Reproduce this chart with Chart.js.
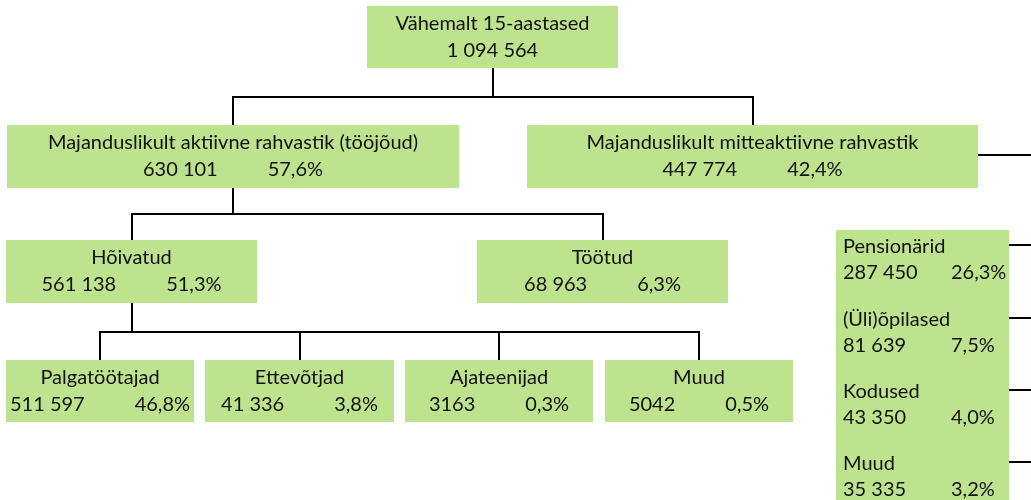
<!DOCTYPE html>
<html lang="et">
<head>
<meta charset="utf-8">
<title>Rahvastik tööturu staatuse järgi</title>
<script src="https://cdn.jsdelivr.net/npm/chart.js@4"></script>
<style>
  html, body { margin: 0; padding: 0; background: #fff; }
  #chart { display: block; }
</style>
</head>
<body>
<canvas id="chart" width="1031" height="500"></canvas>
<script>
// puu sõlmed
const labels = ['Vähemalt 15-aastased', 'Majanduslikult aktiivne rahvastik (tööjõud)', 'Majanduslikult mitteaktiivne rahvastik',
  'Hõivatud', 'Töötud', 'Palgatöötajad', 'Ettevõtjad', 'Ajateenijad', 'Muud'];
const counts = [1094564, 630101, 447774, 561138, 68963, 511597, 41336, 3163, 5042];
const shares = [null, 57.6, 42.4, 51.3, 6.3, 46.8, 3.8, 0.3, 0.5];
const parents = [-1, 0, 0, 1, 1, 3, 3, 3, 3];

// mitteaktiivsed
const inactiveLabels = ['Pensionärid', '(Üli)õpilased', 'Kodused', 'Muud'];
const inactiveCounts = [287450, 81639, 43350, 35335];
const inactiveShares = [26.3, 7.5, 4.0, 3.2];

// layout, in chart units (x 0..1031, y 0..500 top-down)
const boxes = [
  [367, 6, 618, 68],
  [7, 125, 459, 188], [527, 125, 978, 188],
  [6, 240, 257, 303], [477, 240, 728, 303],
  [6, 360, 194, 422], [205, 360, 394, 422], [405, 360, 593, 422], [605, 360, 793, 422]
];
const inactiveBox = [836, 230, 1009, 510];
const inactiveRows = [247, 320, 392, 464];
const inactiveTab = 951;
const rightEdge = 1031;

const boxFill = '#bee38e';
const lineColor = '#000';
const textColor = '#111';
const font = '20px Lato';
const valueGap = 50;

const fmtCount = n => n < 10000 ? String(n) : String(n).replace(/\B(?=(\d{3})+(?!\d))/g, ' ');
const fmtShare = s => s.toFixed(1).replace('.', ',') + '%';

const treePlugin = {
  id: 'tree',
  afterDraw(chart) {
    const { ctx, scales: { x, y } } = chart;
    const X = v => x.getPixelForValue(v);
    const Y = v => y.getPixelForValue(v);
    ctx.save();

    // connectors
    ctx.strokeStyle = lineColor;
    ctx.lineWidth = 2;
    parents.forEach((p, i) => {
      if (p < 0) return;
      const pb = boxes[p], cb = boxes[i];
      const px = Math.round((pb[0] + pb[2]) / 2), cx = Math.round((cb[0] + cb[2]) / 2);
      const mid = Math.round((pb[3] + cb[1]) / 2);
      ctx.beginPath();
      ctx.moveTo(X(px), Y(pb[3]));
      ctx.lineTo(X(px), Y(mid));
      ctx.lineTo(X(cx), Y(mid));
      ctx.lineTo(X(cx), Y(cb[1]));
      ctx.stroke();
    });
    // inactive branch goes off to the right
    const ib = boxes[2];
    ctx.beginPath();
    ctx.moveTo(X(ib[2]), Y(Math.round((ib[1] + ib[3]) / 2) - 2));
    ctx.lineTo(X(rightEdge), Y(Math.round((ib[1] + ib[3]) / 2) - 2));
    inactiveRows.forEach(r => {
      ctx.moveTo(X(inactiveBox[2]), Y(r - 2));
      ctx.lineTo(X(rightEdge), Y(r - 2));
    });
    ctx.stroke();

    // boxes
    ctx.fillStyle = boxFill;
    boxes.forEach(b => ctx.fillRect(X(b[0]), Y(b[1]), X(b[2]) - X(b[0]), Y(b[3]) - Y(b[1])));
    const r = inactiveBox;
    ctx.fillRect(X(r[0]), Y(r[1]), X(r[2]) - X(r[0]), Y(r[3]) - Y(r[1]));

    // text
    ctx.fillStyle = textColor;
    ctx.font = font;
    ctx.textBaseline = 'middle';
    boxes.forEach((b, i) => {
      const cx = X((b[0] + b[2]) / 2);
      ctx.textAlign = 'center';
      ctx.fillText(labels[i], cx, Y(b[1] + 18));
      const c = fmtCount(counts[i]);
      if (shares[i] == null) {
        ctx.fillText(c, cx, Y(b[1] + 44.5));
      } else {
        const s = fmtShare(shares[i]);
        const w1 = ctx.measureText(c).width, w2 = ctx.measureText(s).width;
        const start = cx - (w1 + valueGap + w2) / 2;
        ctx.textAlign = 'left';
        ctx.fillText(c, start, Y(b[1] + 44.5));
        ctx.fillText(s, start + w1 + valueGap, Y(b[1] + 44.5));
      }
    });
    ctx.textAlign = 'left';
    inactiveLabels.forEach((l, i) => {
      const row = inactiveRows[i];
      ctx.fillText(l, X(r[0] + 7), Y(row));
      ctx.fillText(fmtCount(inactiveCounts[i]), X(r[0] + 7), Y(row + 26));
      ctx.fillText(fmtShare(inactiveShares[i]), X(inactiveTab), Y(row + 26));
    });
    ctx.restore();
  }
};

new Chart(document.getElementById('chart'), {
  type: 'scatter',
  data: {
    datasets: [{
      data: boxes.map((b, i) => ({ x: (b[0] + b[2]) / 2, y: (b[1] + b[3]) / 2, v: counts[i] })),
      pointRadius: 0
    }]
  },
  options: {
    responsive: false,
    animation: false,
    layout: { padding: 0 },
    scales: {
      x: { type: 'linear', min: 0, max: 1031, display: false },
      y: { type: 'linear', min: 0, max: 500, reverse: true, display: false }
    },
    plugins: { legend: { display: false }, tooltip: { enabled: false } }
  },
  plugins: [treePlugin]
});
</script>
</body>
</html>
